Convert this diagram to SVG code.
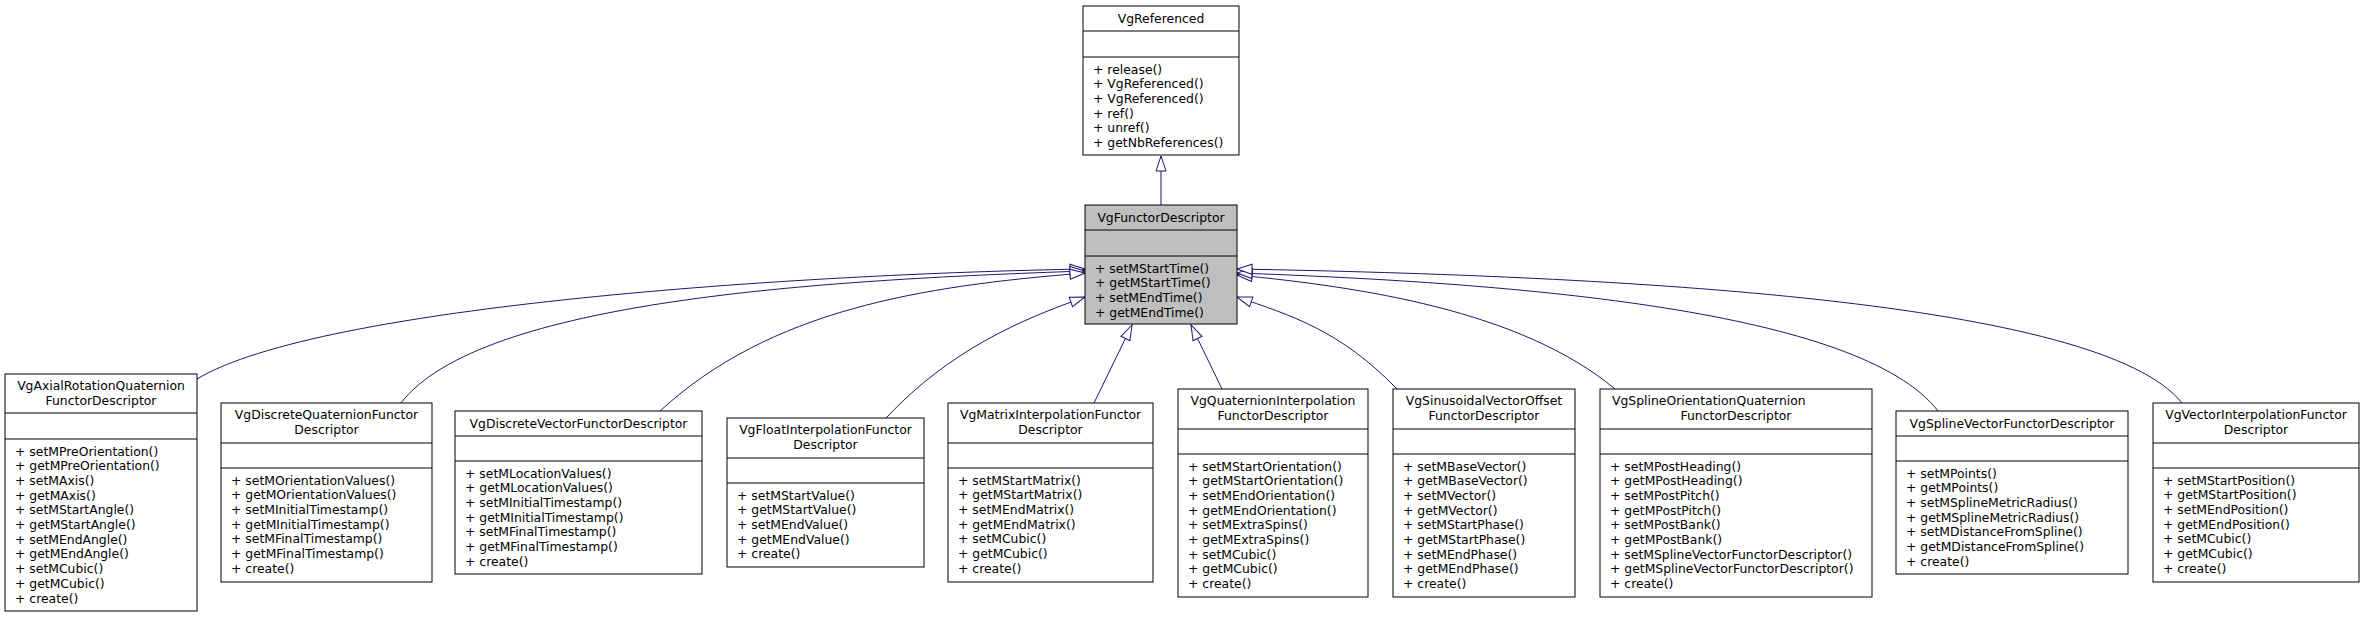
<svg xmlns="http://www.w3.org/2000/svg" width="2365" height="617" viewBox="0 0 2365 617">
<style>
text{font-family:"DejaVu Sans","Liberation Sans",sans-serif;font-size:12.4px;fill:#000}
.c{text-anchor:middle}
rect{fill:#fff;stroke:#000;stroke-width:1}
.g rect{fill:#bfbfbf}
line.s{stroke:#000;stroke-width:1}
.e path{fill:none;stroke:#191970;stroke-width:1;marker-end:url(#a)}
</style>
<defs>
<marker id="a" markerUnits="userSpaceOnUse" markerWidth="18" markerHeight="14" refX="16" refY="6" orient="auto" viewBox="0 0 18 12">
<path d="M16,6 L1,1 L1,11 Z" fill="#fff" stroke="#191970" stroke-width="1"/>
</marker>
</defs>
<g id="edges" class="e">
<path d="M1161,205 L1161,156"/>
<path d="M197,379 C320,305 800,274 1085,269"/>
<path d="M401,403 C480,300 820,280 1085,271"/>
<path d="M660,411 C770,310 920,286 1085,273"/>
<path d="M886,418 C950,350 1020,320 1085,297"/>
<path d="M1094,403 L1132,325"/>
<path d="M1222,389 L1191,325"/>
<path d="M1397,389 C1340,330 1290,315 1237,297"/>
<path d="M1615,389 C1520,310 1360,287 1237,275"/>
<path d="M1938,411 C1860,310 1520,283 1237,273"/>
<path d="M2182,403 C2100,300 1620,276 1237,269"/>
</g>
<g id="VgReferenced">
<rect x="1083" y="6" width="156" height="149"/>
<line class="s" x1="1083" y1="31" x2="1239" y2="31"/><line class="s" x1="1083" y1="57" x2="1239" y2="57"/>
<text class="c" x="1161" y="23">VgReferenced</text>
<text x="1093" y="73.5">+ release()</text><text x="1093" y="88.2">+ VgReferenced()</text><text x="1093" y="102.9">+ VgReferenced()</text><text x="1093" y="117.6">+ ref()</text><text x="1093" y="132.3">+ unref()</text><text x="1093" y="147">+ getNbReferences()</text>
</g>
<g id="VgFunctorDescriptor" class="g">
<rect x="1085" y="205" width="152" height="119"/>
<line class="s" x1="1085" y1="230" x2="1237" y2="230"/><line class="s" x1="1085" y1="256" x2="1237" y2="256"/>
<text class="c" x="1161" y="222">VgFunctorDescriptor</text>
<text x="1095" y="272.5">+ setMStartTime()</text><text x="1095" y="287.2">+ getMStartTime()</text><text x="1095" y="301.9">+ setMEndTime()</text><text x="1095" y="316.6">+ getMEndTime()</text>
</g>
<g id="VgAxialRotationQuaternionFunctorDescriptor">
<rect x="5" y="374" width="192" height="237"/>
<line class="s" x1="5" y1="413" x2="197" y2="413"/><line class="s" x1="5" y1="439" x2="197" y2="439"/>
<text class="c" x="101" y="389.5">VgAxialRotationQuaternion</text><text class="c" x="101" y="405">FunctorDescriptor</text>
<text x="15" y="455.5">+ setMPreOrientation()</text><text x="15" y="470.2">+ getMPreOrientation()</text><text x="15" y="484.9">+ setMAxis()</text><text x="15" y="499.6">+ getMAxis()</text><text x="15" y="514.3">+ setMStartAngle()</text><text x="15" y="529">+ getMStartAngle()</text><text x="15" y="543.7">+ setMEndAngle()</text><text x="15" y="558.4">+ getMEndAngle()</text><text x="15" y="573.1">+ setMCubic()</text><text x="15" y="587.8">+ getMCubic()</text><text x="15" y="602.5">+ create()</text>
</g>
<g id="VgDiscreteQuaternionFunctorDescriptor">
<rect x="221" y="403" width="211" height="179"/>
<line class="s" x1="221" y1="443" x2="432" y2="443"/><line class="s" x1="221" y1="468" x2="432" y2="468"/>
<text class="c" x="326.5" y="419">VgDiscreteQuaternionFunctor</text><text class="c" x="326.5" y="434">Descriptor</text>
<text x="231" y="484.5">+ setMOrientationValues()</text><text x="231" y="499.2">+ getMOrientationValues()</text><text x="231" y="513.9">+ setMInitialTimestamp()</text><text x="231" y="528.6">+ getMInitialTimestamp()</text><text x="231" y="543.3">+ setMFinalTimestamp()</text><text x="231" y="558">+ getMFinalTimestamp()</text><text x="231" y="572.7">+ create()</text>
</g>
<g id="VgDiscreteVectorFunctorDescriptor">
<rect x="455" y="411" width="247" height="163"/>
<line class="s" x1="455" y1="436" x2="702" y2="436"/><line class="s" x1="455" y1="461" x2="702" y2="461"/>
<text class="c" x="578.5" y="428">VgDiscreteVectorFunctorDescriptor</text>
<text x="465" y="477.5">+ setMLocationValues()</text><text x="465" y="492.2">+ getMLocationValues()</text><text x="465" y="506.9">+ setMInitialTimestamp()</text><text x="465" y="521.6">+ getMInitialTimestamp()</text><text x="465" y="536.3">+ setMFinalTimestamp()</text><text x="465" y="551">+ getMFinalTimestamp()</text><text x="465" y="565.7">+ create()</text>
</g>
<g id="VgFloatInterpolationFunctorDescriptor">
<rect x="727" y="418" width="197" height="149"/>
<line class="s" x1="727" y1="458" x2="924" y2="458"/><line class="s" x1="727" y1="483" x2="924" y2="483"/>
<text class="c" x="825.5" y="434">VgFloatInterpolationFunctor</text><text class="c" x="825.5" y="449">Descriptor</text>
<text x="737" y="499.5">+ setMStartValue()</text><text x="737" y="514.2">+ getMStartValue()</text><text x="737" y="528.9">+ setMEndValue()</text><text x="737" y="543.6">+ getMEndValue()</text><text x="737" y="558.3">+ create()</text>
</g>
<g id="VgMatrixInterpolationFunctorDescriptor">
<rect x="948" y="403" width="205" height="179"/>
<line class="s" x1="948" y1="443" x2="1153" y2="443"/><line class="s" x1="948" y1="468" x2="1153" y2="468"/>
<text class="c" x="1050.5" y="419">VgMatrixInterpolationFunctor</text><text class="c" x="1050.5" y="434">Descriptor</text>
<text x="958" y="484.5">+ setMStartMatrix()</text><text x="958" y="499.2">+ getMStartMatrix()</text><text x="958" y="513.9">+ setMEndMatrix()</text><text x="958" y="528.6">+ getMEndMatrix()</text><text x="958" y="543.3">+ setMCubic()</text><text x="958" y="558">+ getMCubic()</text><text x="958" y="572.7">+ create()</text>
</g>
<g id="VgQuaternionInterpolationFunctorDescriptor">
<rect x="1178" y="389" width="190" height="208"/>
<line class="s" x1="1178" y1="429" x2="1368" y2="429"/><line class="s" x1="1178" y1="454" x2="1368" y2="454"/>
<text class="c" x="1273" y="405">VgQuaternionInterpolation</text><text class="c" x="1273" y="420">FunctorDescriptor</text>
<text x="1188" y="470.5">+ setMStartOrientation()</text><text x="1188" y="485.2">+ getMStartOrientation()</text><text x="1188" y="499.9">+ setMEndOrientation()</text><text x="1188" y="514.6">+ getMEndOrientation()</text><text x="1188" y="529.3">+ setMExtraSpins()</text><text x="1188" y="544">+ getMExtraSpins()</text><text x="1188" y="558.7">+ setMCubic()</text><text x="1188" y="573.4">+ getMCubic()</text><text x="1188" y="588.1">+ create()</text>
</g>
<g id="VgSinusoidalVectorOffsetFunctorDescriptor">
<rect x="1393" y="389" width="182" height="208"/>
<line class="s" x1="1393" y1="429" x2="1575" y2="429"/><line class="s" x1="1393" y1="454" x2="1575" y2="454"/>
<text class="c" x="1484" y="405">VgSinusoidalVectorOffset</text><text class="c" x="1484" y="420">FunctorDescriptor</text>
<text x="1403" y="470.5">+ setMBaseVector()</text><text x="1403" y="485.2">+ getMBaseVector()</text><text x="1403" y="499.9">+ setMVector()</text><text x="1403" y="514.6">+ getMVector()</text><text x="1403" y="529.3">+ setMStartPhase()</text><text x="1403" y="544">+ getMStartPhase()</text><text x="1403" y="558.7">+ setMEndPhase()</text><text x="1403" y="573.4">+ getMEndPhase()</text><text x="1403" y="588.1">+ create()</text>
</g>
<g id="VgSplineOrientationQuaternionFunctorDescriptor">
<rect x="1600" y="389" width="272" height="208"/>
<line class="s" x1="1600" y1="429" x2="1872" y2="429"/><line class="s" x1="1600" y1="454" x2="1872" y2="454"/>
<text x="1612" y="405">VgSplineOrientationQuaternion</text><text class="c" x="1736" y="420">FunctorDescriptor</text>
<text x="1610" y="470.5">+ setMPostHeading()</text><text x="1610" y="485.2">+ getMPostHeading()</text><text x="1610" y="499.9">+ setMPostPitch()</text><text x="1610" y="514.6">+ getMPostPitch()</text><text x="1610" y="529.3">+ setMPostBank()</text><text x="1610" y="544">+ getMPostBank()</text><text x="1610" y="558.7">+ setMSplineVectorFunctorDescriptor()</text><text x="1610" y="573.4">+ getMSplineVectorFunctorDescriptor()</text><text x="1610" y="588.1">+ create()</text>
</g>
<g id="VgSplineVectorFunctorDescriptor">
<rect x="1896" y="411" width="232" height="163"/>
<line class="s" x1="1896" y1="436" x2="2128" y2="436"/><line class="s" x1="1896" y1="461" x2="2128" y2="461"/>
<text class="c" x="2012" y="428">VgSplineVectorFunctorDescriptor</text>
<text x="1906" y="477.5">+ setMPoints()</text><text x="1906" y="492.2">+ getMPoints()</text><text x="1906" y="506.9">+ setMSplineMetricRadius()</text><text x="1906" y="521.6">+ getMSplineMetricRadius()</text><text x="1906" y="536.3">+ setMDistanceFromSpline()</text><text x="1906" y="551">+ getMDistanceFromSpline()</text><text x="1906" y="565.7">+ create()</text>
</g>
<g id="VgVectorInterpolationFunctorDescriptor">
<rect x="2153" y="403" width="206" height="179"/>
<line class="s" x1="2153" y1="443" x2="2359" y2="443"/><line class="s" x1="2153" y1="468" x2="2359" y2="468"/>
<text class="c" x="2256" y="419">VgVectorInterpolationFunctor</text><text class="c" x="2256" y="434">Descriptor</text>
<text x="2163" y="484.5">+ setMStartPosition()</text><text x="2163" y="499.2">+ getMStartPosition()</text><text x="2163" y="513.9">+ setMEndPosition()</text><text x="2163" y="528.6">+ getMEndPosition()</text><text x="2163" y="543.3">+ setMCubic()</text><text x="2163" y="558">+ getMCubic()</text><text x="2163" y="572.7">+ create()</text>
</g>
</svg>
